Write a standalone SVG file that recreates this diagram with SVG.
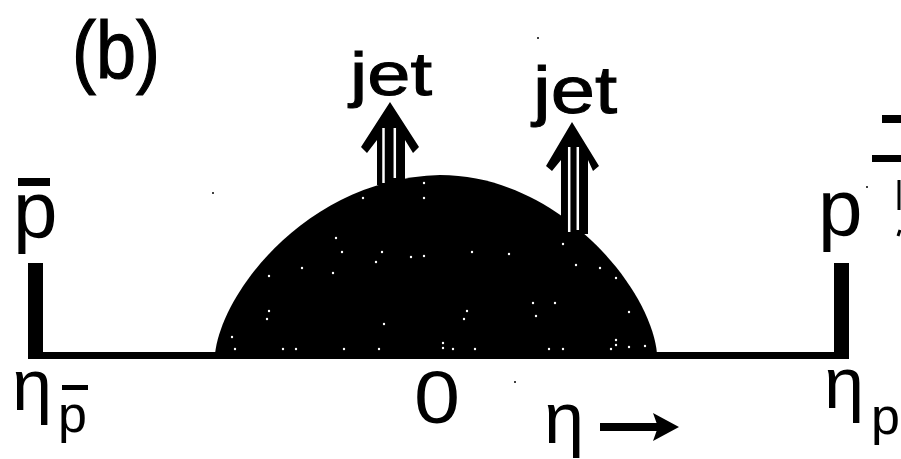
<svg xmlns="http://www.w3.org/2000/svg" width="901" height="459" viewBox="0 0 901 459">
<style>
.t{font-family:"Liberation Sans",Arial,sans-serif;fill:#000}
.w{stroke:#fff;stroke-width:2.5;fill:none}
.sp{fill:#fff}
.nz{fill:#000}
</style>
<rect width="901" height="459" fill="#fff"/>
<g id="label-b"><text class="t" x="72" y="78" font-size="82" textLength="88" lengthAdjust="spacingAndGlyphs" stroke="#000" stroke-width="1.2">(b)</text></g>
<g id="axis">
<rect x="28" y="352" width="821" height="7" fill="#000"/>
<rect x="28" y="263" width="15" height="96" fill="#000"/>
<rect x="834" y="263" width="15" height="96" fill="#000"/>
</g>
<g id="dome">
<path d="M215,354 C222,290 310,178 440,175 C560,175 652,290 657,354 Z" fill="#000"/>
<g class="sp">
<circle cx="363" cy="198" r="1.2"/><circle cx="424" cy="183" r="1.2"/><circle cx="424" cy="198" r="1.2"/>
<circle cx="336" cy="238" r="1.2"/><circle cx="342" cy="252" r="1.2"/><circle cx="382" cy="252" r="1.2"/>
<circle cx="376" cy="262" r="1.2"/><circle cx="411" cy="257" r="1.2"/><circle cx="424" cy="256" r="1.2"/>
<circle cx="472" cy="252" r="1.2"/><circle cx="509" cy="254" r="1.2"/><circle cx="302" cy="268" r="1.2"/>
<circle cx="333" cy="273" r="1.2"/><circle cx="269" cy="276" r="1.2"/><circle cx="563" cy="244" r="1.2"/>
<circle cx="576" cy="265" r="1.2"/><circle cx="600" cy="268" r="1.2"/><circle cx="616" cy="278" r="1.2"/>
<circle cx="269" cy="311" r="1.2"/><circle cx="267" cy="319" r="1.2"/><circle cx="384" cy="324" r="1.2"/>
<circle cx="467" cy="311" r="1.2"/><circle cx="464" cy="319" r="1.2"/><circle cx="533" cy="303" r="1.2"/>
<circle cx="555" cy="303" r="1.2"/><circle cx="536" cy="316" r="1.2"/><circle cx="629" cy="312" r="1.2"/>
<circle cx="232" cy="337" r="1.2"/><circle cx="235" cy="349" r="1.2"/><circle cx="283" cy="349" r="1.2"/>
<circle cx="296" cy="349" r="1.2"/><circle cx="344" cy="349" r="1.2"/><circle cx="379" cy="349" r="1.2"/>
<circle cx="443" cy="343" r="1.2"/><circle cx="443" cy="348" r="1.2"/><circle cx="453" cy="349" r="1.2"/>
<circle cx="475" cy="349" r="1.2"/><circle cx="549" cy="349" r="1.2"/><circle cx="563" cy="349" r="1.2"/>
<circle cx="616" cy="340" r="1.2"/><circle cx="616" cy="345" r="1.2"/><circle cx="611" cy="349" r="1.2"/>
<circle cx="629" cy="347" r="1.2"/><circle cx="645" cy="346" r="1.2"/>
</g>
</g>
<g id="connectors">
<g id="jet-arrow-1">
<polygon points="390,102 419,147 413,153 405,140 405,185 377,185 377,140 367,153 361,147" fill="#000"/>
<line class="w" x1="383.5" y1="128" x2="383.5" y2="183"/>
<line class="w" x1="394.8" y1="128" x2="394.8" y2="178"/>
</g>
<g id="jet-arrow-2">
<polygon points="572,122 599,166 593,171 588,160 588,234 561,234 561,160 552,171 546,166" fill="#000"/>
<line class="w" x1="569.2" y1="147" x2="569.2" y2="232"/>
<line class="w" x1="577.8" y1="147" x2="577.8" y2="230"/>
</g>
<g id="eta-arrow">
<line x1="600" y1="427" x2="662" y2="427" stroke="#000" stroke-width="8"/>
<polygon points="653,413 679,427 653,441 658,427" fill="#000"/>
</g>
</g>
<g id="jet-label-1"><text class="t" x="350" y="95" font-size="62" textLength="82" lengthAdjust="spacingAndGlyphs" stroke="#000" stroke-width="1">jet</text></g>
<g id="jet-label-2"><text class="t" x="533" y="113" font-size="66" textLength="84" lengthAdjust="spacingAndGlyphs" stroke="#000" stroke-width="1">jet</text></g>
<g id="pbar-label">
<rect x="18" y="178" width="32" height="8" fill="#000"/>
<text class="t" x="13" y="237" font-size="80">p</text>
</g>
<g id="p-label"><text class="t" x="818" y="235" font-size="80">p</text></g>
<g id="eta-pbar-label">
<text class="t" x="12" y="410" font-size="72">η</text>
<rect x="62" y="385" width="26" height="5" fill="#000"/>
<text class="t" x="58" y="432" font-size="52">p</text>
</g>
<g id="eta-p-label">
<text class="t" x="824" y="408" font-size="72">η</text>
<text class="t" x="871" y="434" font-size="52">p</text>
</g>
<g id="zero-label"><text class="t" x="414" y="423" font-size="74" textLength="46" lengthAdjust="spacingAndGlyphs">0</text></g>
<g id="eta-axis-label"><text class="t" x="544" y="443" font-size="72">η</text></g>
<g id="edge-fragments">
<rect x="882" y="115" width="19" height="8" fill="#000"/>
<rect x="872" y="155" width="29" height="7" fill="#000"/>
<path d="M899,180 L899,210 M900,230 L898,236" stroke="#000" stroke-width="3" fill="none"/>
</g>
<g class="nz">
<circle cx="213" cy="193" r="1"/><circle cx="515" cy="382" r="1"/><circle cx="867" cy="187" r="1"/><circle cx="538" cy="38" r="1"/>
</g>
</svg>
